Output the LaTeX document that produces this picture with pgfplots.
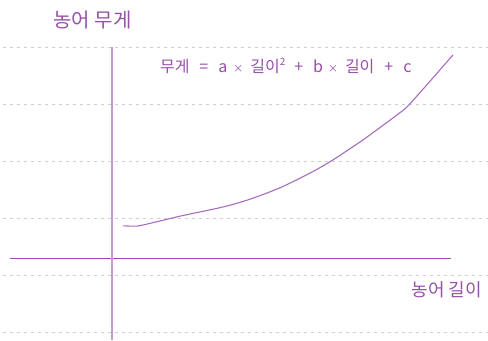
\documentclass[border=0pt]{standalone}
\usepackage{fontspec}
\newfontfamily\kr{Noto Sans CJK KR}
\usepackage{pgfplots}
\pgfplotsset{compat=1.18}
\definecolor{axdark}{HTML}{9B4FAF}
\definecolor{axlight}{HTML}{C39AD2}
\definecolor{curvec}{HTML}{A86CBE}
\definecolor{txtc}{HTML}{9550A8}
\definecolor{gridc}{HTML}{CFCFCF}
\newcommand{\tms}{{\fontsize{10bp}{11bp}\selectfont ×}}

\begin{document}
\begin{tikzpicture}
\begin{axis}[
  scale only axis,
  width=488bp, height=340bp,
  xmin=0, xmax=488, ymin=0, ymax=340,
  axis lines=none, ticks=none,
  clip=false,
]
% frame for the bounding box
\addplot[draw=none] coordinates {(0,0) (488,340)};
% dashed guide lines
\foreach \yy in {292.7,235.5,178.3,121,64,7.3} {
  \edef\tmp{\noexpand\addplot[gridc, line width=0.8bp, dash pattern=on 3.5bp off 3.5bp]
    coordinates {(3,\yy) (488,\yy)};}
  \tmp
}
% axes
\addplot[axdark, line width=1.1bp] coordinates {(10,81.7) (451,81.7)};
\addplot[axlight, line width=1.6bp] coordinates {(112,0) (112,293)};
% weight curve
\addplot[curvec, line width=1.1bp, smooth, tension=0.4] coordinates {
  (123.3,114) (136.7,113.7) (148.3,116) (181.7,124) (215,131)
  (231.7,135) (248.3,140) (265,146) (281.7,152.7) (298.3,160.7)
  (315,169.3) (333.3,180) (363.3,200) (396.7,224.5) (408.3,234)
  (430,258.3) (453.3,285)};
% labels
\node[text=txtc, font=\kr\fontsize{20bp}{23bp}\selectfont] at (axis cs:92.5,319.5) {농어 무게};
\node[text=txtc, font=\kr\fontsize{16bp}{19bp}\selectfont] at (axis cs:286,274)
  {무게\hspace{10bp}=\hspace{10bp}a\hspace{6bp}\tms\hspace{7bp}길이\raisebox{0.45em}{\fontsize{10bp}{11bp}\selectfont 2}\hspace{9bp}+\hspace{10bp}b\hspace{5bp}\tms\hspace{7bp}길이\hspace{10bp}+\hspace{10bp}c};
\node[text=txtc, font=\kr\fontsize{18bp}{21bp}\selectfont] at (axis cs:447,50) {농어 길이};
\end{axis}
\end{tikzpicture}
\end{document}
